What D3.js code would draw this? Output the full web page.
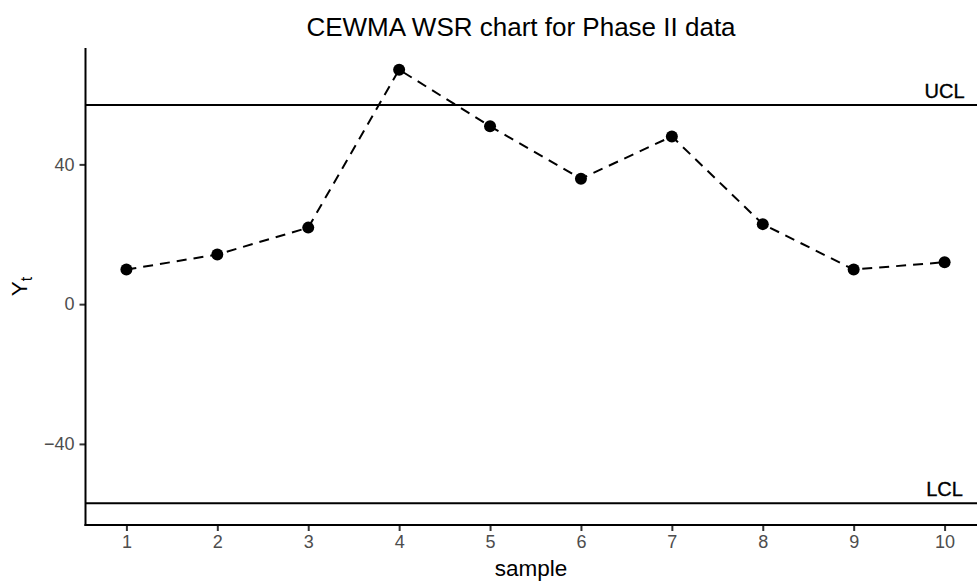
<!DOCTYPE html>
<html>
<head>
<meta charset="utf-8">
<script src="https://cdn.jsdelivr.net/npm/d3@7"></script>
<style>
  html, body { margin: 0; padding: 0; background: #fff; }
  svg { display: block; font-family: "Liberation Sans", Arial, Helvetica, sans-serif; }
</style>
</head>
<body>
<svg id="chart" width="977" height="585"></svg>
<script>
// ---- data ----
const samples = [1, 2, 3, 4, 5, 6, 7, 8, 9, 10];
const Yt = [9.9, 14.2, 21.9, 67.1, 50.9, 35.9, 48.0, 22.9, 9.9, 12.0];
const UCL = 57;
const LCL = -57;
const limitLabels = ["UCL", "LCL"];
const yTicks = [-40, 0, 40];
const xTicks = [1, 2, 3, 4, 5, 6, 7, 8, 9, 10];
const titleText = "CEWMA WSR chart for Phase II data";
const xTitle = "sample";

// ---- layout ----
const W = 977, H = 585;
const panel = { left: 85.5, right: 985.5, top: 48, bottom: 525 };

const svg = d3.select("#chart");

const xMin = d3.min(samples), xMax = d3.max(samples);
const xPad = (xMax - xMin) * 0.05;
const x = d3.scaleLinear().domain([xMin - xPad, xMax + xPad]).range([panel.left, panel.right]);

const yLo = Math.min(LCL, d3.min(Yt)), yHi = Math.max(UCL, d3.max(Yt));
const yPad = (yHi - yLo) * 0.05;
const y = d3.scaleLinear().domain([yLo - yPad, yHi + yPad]).range([panel.bottom, panel.top]);

// control limit lines
const limits = [{ v: UCL, label: limitLabels[0] }, { v: LCL, label: limitLabels[1] }];
svg.selectAll("line.limit").data(limits).enter().append("line")
  .attr("class", "limit")
  .attr("x1", panel.left).attr("x2", panel.right)
  .attr("y1", d => y(d.v)).attr("y2", d => y(d.v))
  .attr("stroke", "#000").attr("stroke-width", 2);

svg.selectAll("text.limit").data(limits).enter().append("text")
  .attr("class", "limit")
  .attr("x", x(xMax))
  .attr("y", d => y(d.v) - 7)
  .attr("text-anchor", "middle")
  .attr("font-size", 20)
  .attr("fill", "#000")
  .attr("stroke", "#000").attr("stroke-width", 0.35)
  .text(d => d.label);

// dashed line
const pts = samples.map((s, i) => [s, Yt[i]]);
svg.append("path")
  .datum(pts)
  .attr("fill", "none")
  .attr("stroke", "#000")
  .attr("stroke-width", 2)
  .attr("stroke-dasharray", "10,7")
  .attr("d", d3.line().x(d => x(d[0])).y(d => y(d[1])));

// points
svg.selectAll("circle.pt").data(pts).enter().append("circle")
  .attr("class", "pt")
  .attr("cx", d => x(d[0])).attr("cy", d => y(d[1]))
  .attr("r", 6).attr("fill", "#000");

// axes
const xAxis = d3.axisBottom(x).tickValues(xTicks).tickSize(6).tickPadding(4).tickFormat(d3.format("d"));
const gx = svg.append("g").attr("transform", `translate(0,${panel.bottom})`).call(xAxis);
gx.select(".domain").remove();
gx.append("line").attr("x1", panel.left - 1).attr("x2", panel.right).attr("y1", 0).attr("y2", 0)
  .attr("stroke", "#000").attr("stroke-width", 2);

const yAxis = d3.axisLeft(y).tickValues(yTicks).tickSize(6).tickPadding(5).tickFormat(d3.format("d"));
const gy = svg.append("g").attr("transform", `translate(${panel.left},0)`).call(yAxis);
gy.select(".domain").remove();
gy.append("line").attr("x1", 0).attr("x2", 0).attr("y1", panel.top).attr("y2", panel.bottom + 1)
  .attr("stroke", "#000").attr("stroke-width", 2);

[gx, gy].forEach(g => {
  g.selectAll(".tick line").attr("stroke", "#333").attr("stroke-width", 2);
  g.selectAll(".tick text").attr("fill", "#4d4d4d").attr("font-size", 18)
    .attr("font-family", "Liberation Sans, Arial, sans-serif");
});

// titles
svg.append("text")
  .attr("x", 521).attr("y", 36)
  .attr("text-anchor", "middle")
  .attr("font-size", 26)
  .attr("fill", "#000")
  .text(titleText);

svg.append("text")
  .attr("x", 531).attr("y", 576)
  .attr("text-anchor", "middle")
  .attr("font-size", 22.5)
  .attr("fill", "#000")
  .text(xTitle);

const yt = svg.append("text")
  .attr("transform", `translate(27,${(panel.top + panel.bottom) / 2}) rotate(-90)`)
  .attr("text-anchor", "middle")
  .attr("font-size", 22.5)
  .attr("fill", "#000");
yt.append("tspan").text("Y");
yt.append("tspan").attr("font-size", 16).attr("dy", 5).text("t");
</script>
</body>
</html>
